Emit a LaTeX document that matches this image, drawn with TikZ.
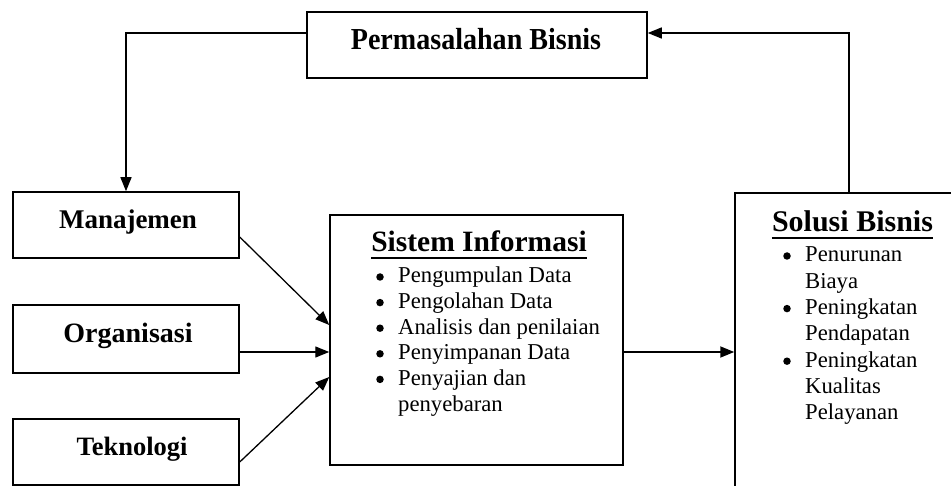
\documentclass[tikz,border=0pt]{standalone}
\usepackage{fontspec}
\setmainfont{Liberation Serif}
\newfontfamily\pbfont[FakeStretch=0.92]{Liberation Serif}
\usetikzlibrary{arrows.meta}
\newcommand\fsz[1]{\fontsize{#1}{#1}\selectfont}
\tikzset{
  box/.style={draw, line width=1.5pt, inner sep=0pt, rectangle},
  ttl/.style={anchor=base, inner sep=0pt, font=\bfseries\fsz{#1}},
  itm/.style={anchor=base west, inner sep=0pt, font=\fsz{22.7}},
  bul/.style={circle, fill, inner sep=0pt, minimum size=7.5pt},
  arr/.style={line width=1.3pt, -{Triangle[length=14pt,width=11pt]}},
  uline/.style={line width=2pt}
}
\begin{document}
\begin{tikzpicture}[x=1pt,y=-1pt]
\useasboundingbox (0,0) rectangle (951,486);
\clip (0,0) rectangle (951,486);
% boxes
\node[box, minimum width=340pt, minimum height=66pt] (pb) at (477,45) {};
\node[box, minimum width=226pt, minimum height=66pt] (man) at (126,225) {};
\node[box, minimum width=226pt, minimum height=68pt] (org) at (126,339) {};
\node[box, minimum width=226pt, minimum height=66pt] (tek) at (126,452) {};
\node[box, minimum width=293pt, minimum height=250pt] (sis) at (476.5,340) {};
\node[box, minimum width=228pt, minimum height=303pt] (sol) at (849,344.5) {};
% titles
\node[anchor=base, inner sep=0pt, font=\pbfont\bfseries\fsz{30.5}] (pbt) at (476,50) {Permasalahan Bisnis};
\node[ttl=27] (mant) at (128,229) {Manajemen};
\node[ttl=28] (orgt) at (128,343) {Organisasi};
\node[ttl=26.5] (tekt) at (132,455) {Teknologi};
\node[ttl=29.5] (sist) at (479,252) {Sistem Informasi};
\node[ttl=30] (solt) at (852.5,232) {Solusi Bisnis};
\draw[uline] ([yshift=-6pt]sist.base west) -- ([yshift=-6pt]sist.base east);
\draw[uline] ([yshift=-6pt]solt.base west) -- ([yshift=-6pt]solt.base east);
% Sistem Informasi list
\node[bul] (sb1) at (380,277) {};
\node[itm] (si1) at (398,283) {Pengumpulan Data};
\node[bul] (sb2) at (380,302.6) {};
\node[itm] (si2) at (398,308.6) {Pengolahan Data};
\node[bul] (sb3) at (380,328.2) {};
\node[itm] (si3) at (398,334.2) {Analisis dan penilaian};
\node[bul] (sb4) at (380,353.8) {};
\node[itm] (si4) at (398,359.8) {Penyimpanan Data};
\node[bul] (sb5) at (380,379.4) {};
\node[itm] (si5) at (398,385.4) {Penyajian dan};
\node[itm] (si6) at (398,411) {penyebaran};
% Solusi list
\node[bul] (ob1) at (787,256) {};
\node[itm] (oi1) at (805,262) {Penurunan};
\node[itm] (oi2) at (805,288.3) {Biaya};
\node[bul] (ob3) at (787,308.6) {};
\node[itm] (oi3) at (805,314.6) {Peningkatan};
\node[itm] (oi4) at (805,340.9) {Pendapatan};
\node[bul] (ob5) at (787,361.2) {};
\node[itm] (oi5) at (805,367.2) {Peningkatan};
\node[itm] (oi6) at (805,393.5) {Kualitas};
\node[itm] (oi7) at (805,420) {Pelayanan};
% connectors
\coordinate (top) at (0,33);
\coordinate (mid) at (0,352);
\draw[arr] (pb.west |- top) -| (man.north);
\draw[arr] (sol.north) |- (pb.east |- top);
\draw[arr] ([yshift=-12pt]man.east) -- ([yshift=15pt]sis.west);
\draw[arr] (org.east |- mid) -- (sis.west |- mid);
\draw[arr] ([yshift=-10pt]tek.east) -- ([yshift=-37pt]sis.west);
\draw[arr, line width=1.8pt] (sis.east |- mid) -- (sol.west |- mid);
\end{tikzpicture}
\end{document}
